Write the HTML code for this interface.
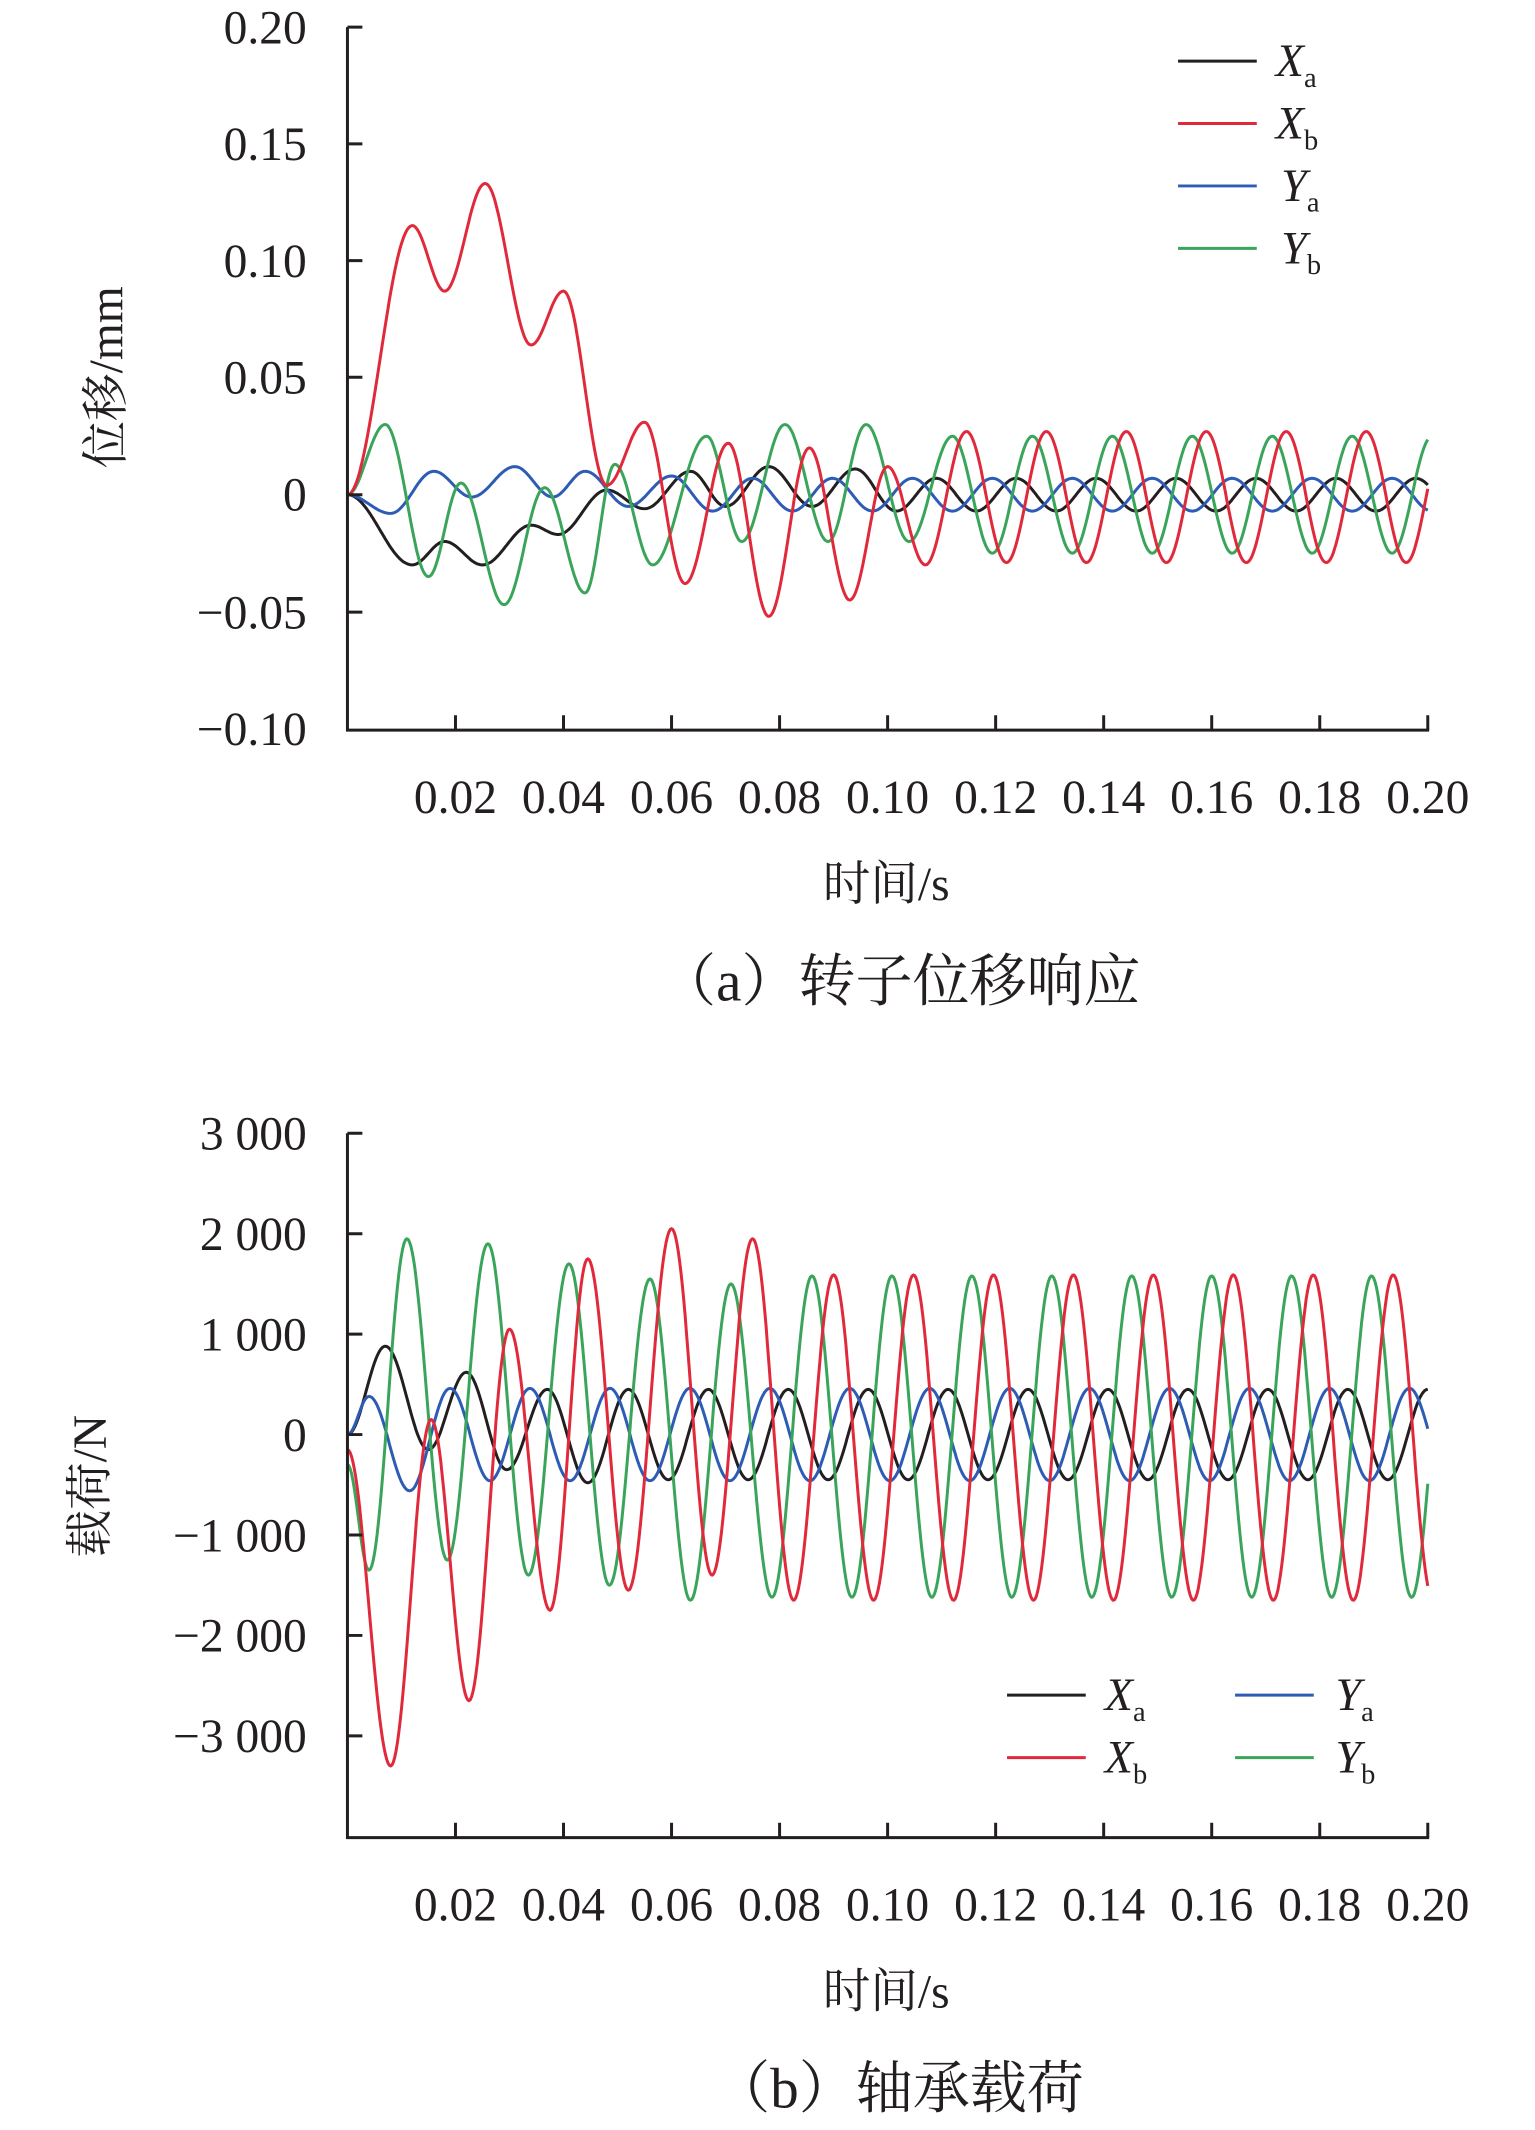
<!DOCTYPE html>
<html><head><meta charset="utf-8"><style>
html,body{margin:0;padding:0;background:#fff;}
svg{display:block}
text{font-family:"Liberation Serif","Noto Serif CJK SC",serif;fill:#231f20}
</style></head><body>
<svg id="s" width="1535" height="2130" viewBox="0 0 1131 1569.4" preserveAspectRatio="none" xmlns="http://www.w3.org/2000/svg">
<g id="g"></g>
<g stroke="#231f20" stroke-width="2.2" fill="none">
<path d="M256,20 V538 H1053"/>
<path d="M256,20 h11 M256,106 h11 M256,192 h11 M256,278 h11 M256,364.5 h11 M256,451 h11"/>
<path d="M335.6,538 v-11 M415.2,538 v-11 M494.8,538 v-11 M574.4,538 v-11 M654,538 v-11 M733.6,538 v-11 M813.2,538 v-11 M892.8,538 v-11 M972.4,538 v-11 M1052,538 v-11"/>
<path d="M256,835 V1354 H1053"/>
<path d="M256,835 h11 M256,909 h11 M256,983 h11 M256,1057 h11 M256,1131 h11 M256,1205 h11 M256,1279 h11"/>
<path d="M335.6,1354 v-11 M415.2,1354 v-11 M494.8,1354 v-11 M574.4,1354 v-11 M654,1354 v-11 M733.6,1354 v-11 M813.2,1354 v-11 M892.8,1354 v-11 M972.4,1354 v-11 M1052,1354 v-11"/>
</g>
<g font-size="35" text-anchor="end">
<text x="226" y="32">0.20</text><text x="226" y="118">0.15</text><text x="226" y="204">0.10</text><text x="226" y="290">0.05</text><text x="226" y="376">0</text><text x="226" y="463">−0.05</text><text x="226" y="549">−0.10</text>
<text x="226" y="847">3 000</text><text x="226" y="921">2 000</text><text x="226" y="995">1 000</text><text x="226" y="1069">0</text><text x="226" y="1143">−1 000</text><text x="226" y="1217">−2 000</text><text x="226" y="1291">−3 000</text>
</g>
<g font-size="35" text-anchor="middle">
<text x="335.6" y="599">0.02</text><text x="415.2" y="599">0.04</text><text x="494.8" y="599">0.06</text><text x="574.4" y="599">0.08</text><text x="654" y="599">0.10</text><text x="733.6" y="599">0.12</text><text x="813.2" y="599">0.14</text><text x="892.8" y="599">0.16</text><text x="972.4" y="599">0.18</text><text x="1052" y="599">0.20</text>
<text x="335.6" y="1415">0.02</text><text x="415.2" y="1415">0.04</text><text x="494.8" y="1415">0.06</text><text x="574.4" y="1415">0.08</text><text x="654" y="1415">0.10</text><text x="733.6" y="1415">0.12</text><text x="813.2" y="1415">0.14</text><text x="892.8" y="1415">0.16</text><text x="972.4" y="1415">0.18</text><text x="1052" y="1415">0.20</text>
<text x="653" y="663">时间/s</text>
<text x="653" y="1479">时间/s</text>
<text x="663" y="737" font-size="42">（a）转子位移响应</text>
<text x="662" y="1553" font-size="42">（b）轴承载荷</text>
<text transform="translate(90,278) rotate(-90)">位移/mm</text>
<text transform="translate(78,1095) rotate(-90)">载荷/N</text>
</g>
<g stroke-width="2.2">
<line x1="868" y1="45" x2="926" y2="45" stroke="#231f20"/>
<line x1="868" y1="91" x2="926" y2="91" stroke="#e0293b"/>
<line x1="868" y1="137" x2="926" y2="137" stroke="#2d5cb4"/>
<line x1="868" y1="183" x2="926" y2="183" stroke="#3aa55a"/>
<line x1="742" y1="1249" x2="800" y2="1249" stroke="#231f20"/>
<line x1="742" y1="1295" x2="800" y2="1295" stroke="#e0293b"/>
<line x1="910" y1="1249" x2="968" y2="1249" stroke="#2d5cb4"/>
<line x1="910" y1="1295" x2="968" y2="1295" stroke="#3aa55a"/>
</g>
<g font-size="34">
<text x="940" y="56"><tspan font-style="italic">X</tspan><tspan font-size="21" dy="8">a</tspan></text>
<text x="940" y="102"><tspan font-style="italic">X</tspan><tspan font-size="21" dy="8">b</tspan></text>
<text x="944" y="148"><tspan font-style="italic">Y</tspan><tspan font-size="21" dy="8">a</tspan></text>
<text x="944" y="194"><tspan font-style="italic">Y</tspan><tspan font-size="21" dy="8">b</tspan></text>
<text x="814" y="1260"><tspan font-style="italic">X</tspan><tspan font-size="21" dy="8">a</tspan></text>
<text x="814" y="1306"><tspan font-style="italic">X</tspan><tspan font-size="21" dy="8">b</tspan></text>
<text x="984" y="1260"><tspan font-style="italic">Y</tspan><tspan font-size="21" dy="8">a</tspan></text>
<text x="984" y="1306"><tspan font-style="italic">Y</tspan><tspan font-size="21" dy="8">b</tspan></text>
</g>
</svg>
<script>
(function(){
var H=0.0074;
function ext(list,gen){
  var L=list.slice(); var t=gen[0], s=gen[1];
  while(t<0.22){L.push([t,gen[3]+s*gen[2]]); t+=H; s=-s;}
  return L;
}
function val(L,t){
  for(var i=0;i<L.length-1;i++){
    if(t>=L[i][0]&&t<=L[i+1][0]){
      var u=(t-L[i][0])/(L[i+1][0]-L[i][0]); var w=(1-Math.cos(Math.PI*u))/2;
      return L[i][1]+(L[i+1][1]-L[i][1])*w;
    }
  }
  return L[L.length-1][1];
}
function path(L,y0,sc,col){
  var d="";
  for(var k=0;k<=800;k++){var t=0.2*k/800; var x=256+t*3980; var y=y0-val(L,t)*sc; d+=(k?"L":"M")+x.toFixed(1)+","+y.toFixed(1);}
  var p=document.createElementNS("http://www.w3.org/2000/svg","path");
  p.setAttribute("d",d);p.setAttribute("fill","none");p.setAttribute("stroke",col);p.setAttribute("stroke-width","2.2");p.setAttribute("stroke-linejoin","round");
  document.getElementById("g").appendChild(p);
}
var A0=364.5, AS=86.2/0.05;
var Xa=ext([[0,0],[0.012,-0.03],[0.018,-0.02],[0.025,-0.03],[0.034,-0.013],[0.039,-0.017],[0.048,0.002],[0.055,-0.006],[0.0635,0.01],[0.07,-0.005],[0.078,0.012],[0.086,-0.005],[0.094,0.011]],[0.1016,-1,0.007,0]);
var Xb=ext([[0,0],[0.012,0.115],[0.018,0.087],[0.0255,0.133],[0.034,0.064],[0.040,0.087],[0.048,0.004],[0.055,0.031],[0.0625,-0.038],[0.0705,0.022],[0.078,-0.052],[0.0855,0.02],[0.093,-0.045],[0.1,0.012],[0.107,-0.03]],[0.1146,1,0.028,-0.001]);
var Ya=ext([[0,0],[0.008,-0.008],[0.016,0.01],[0.023,-0.001],[0.031,0.012],[0.038,-0.001],[0.044,0.01],[0.052,-0.005],[0.06,0.008]],[0.0676,-1,0.007,0]);
var Yb=ext([[0,0],[0.007,0.03],[0.015,-0.035],[0.021,0.005],[0.029,-0.047],[0.0365,0.003],[0.044,-0.042],[0.0495,0.013],[0.0565,-0.03],[0.0665,0.025],[0.073,-0.02],[0.081,0.03],[0.089,-0.02],[0.096,0.03],[0.104,-0.02]],[0.112,1,0.025,0]);
path(Xa,A0,AS,"#231f20");path(Ya,A0,AS,"#2d5cb4");path(Yb,A0,AS,"#3aa55a");path(Xb,A0,AS,"#e0293b");
var B0=1057, BS=74/1000;
var bXa=ext([[0,0],[0.007,880],[0.015,-150],[0.022,620],[0.0295,-350],[0.037,450],[0.0445,-480]],[0.052,1,450,0]);
var bXb=ext([[0,-150],[0.008,-3300],[0.0155,150],[0.0225,-2650],[0.03,1050],[0.0375,-1750],[0.0445,1750],[0.052,-1550],[0.06,2050],[0.0675,-1400],[0.075,1950]],[0.0826,-1,1620,-30]);
var bYa=ext([[0,0],[0.004,380],[0.0115,-560]],[0.019,1,460,0]);
var bYb=ext([[0,-300],[0.004,-1350],[0.011,1950],[0.0185,-1250],[0.026,1900],[0.0335,-1400],[0.041,1700],[0.0485,-1500],[0.056,1550],[0.0635,-1650],[0.071,1500]],[0.0786,-1,1600,-20]);
path(bXa,B0,BS,"#231f20");path(bYa,B0,BS,"#2d5cb4");path(bYb,B0,BS,"#3aa55a");path(bXb,B0,BS,"#e0293b");
})();
</script>
</body></html>
